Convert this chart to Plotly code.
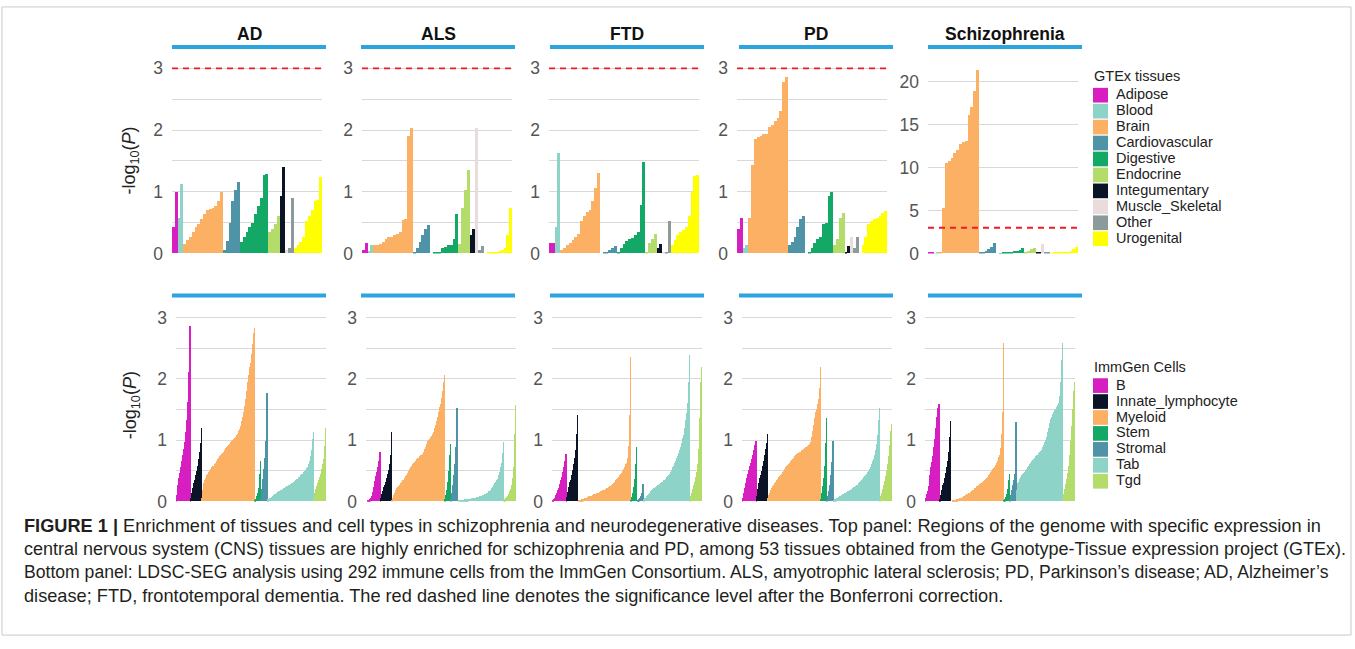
import plotly.graph_objects as go

W, H = 1355, 649

diseases = ["AD", "ALS", "FTD", "PD", "Schizophrenia"]

gtex_groups = ["Adipose", "Blood", "Brain", "Cardiovascular", "Digestive", "Endocrine",
               "Integumentary", "Muscle_Skeletal", "Other", "Urogenital"]
gtex_colors = ["#d71ec1", "#8dd3c7", "#fbb063", "#4f93a6", "#13a865", "#b3dc6a",
               "#0b1426", "#e9dcdc", "#8b9b9b", "#ffff00"]

imm_groups = ["B", "Innate_lymphocyte", "Myeloid", "Stem", "Stromal", "Tab", "Tgd"]
imm_colors = ["#d71ec1", "#0b1426", "#fbb063", "#13a865", "#4f93a6", "#8dd3c7", "#b3dc6a"]

# ---------------- GTEx tissues (-log10 P), sorted within each tissue group ----------------
gtex_ad = [
    [0.42, 1.00],
    [0.58, 1.12],
    [0.16, 0.21, 0.26, 0.34, 0.42, 0.48, 0.56, 0.63, 0.71, 0.72, 0.74, 0.77, 0.85, 0.99],
    [0.06, 0.20, 0.50, 0.85, 1.03, 1.16],
    [0.19, 0.26, 0.34, 0.42, 0.50, 0.63, 0.77, 0.90, 1.27, 1.29],
    [0.34, 0.40, 0.48, 0.61],
    [0.93, 1.40],
    [0.05],
    [0.08, 0.90],
    [0.08, 0.13, 0.19, 0.26, 0.53, 0.61, 0.71, 0.85, 0.87, 1.24],
]
gtex_als = [
    [0.06, 0.17],
    [0.04, 0.14],
    [0.13, 0.14, 0.16, 0.19, 0.24, 0.26, 0.27, 0.29, 0.32, 0.34, 0.54, 0.56, 1.90, 2.03],
    [0.03, 0.08, 0.19, 0.29, 0.40, 0.46],
    [0.00, 0.01, 0.01, 0.03, 0.08, 0.11, 0.13, 0.14, 0.24, 0.63],
    [0.16, 0.74, 1.02, 1.35],
    [0.29, 0.39],
    [2.03],
    [0.05, 0.12],
    [0.00, 0.01, 0.01, 0.02, 0.03, 0.04, 0.05, 0.08, 0.30, 0.74],
]
gtex_ftd = [
    [0.17, 0.17],
    [0.42, 1.63],
    [0.05, 0.09, 0.13, 0.17, 0.21, 0.26, 0.32, 0.53, 0.61, 0.67, 0.71, 0.85, 1.06, 1.30],
    [0.00, 0.01, 0.03, 0.05, 0.08, 0.12],
    [0.03, 0.08, 0.16, 0.20, 0.23, 0.25, 0.29, 0.34, 0.79, 1.48],
    [0.03, 0.17, 0.24, 0.32],
    [0.08, 0.15],
    [0.03],
    [0.03, 0.52],
    [0.13, 0.21, 0.30, 0.35, 0.38, 0.43, 0.60, 0.99, 1.25, 1.27],
]
gtex_pd = [
    [0.39, 0.57],
    [0.08, 0.13],
    [0.58, 1.43, 1.85, 1.88, 1.90, 1.93, 1.94, 2.05, 2.08, 2.14, 2.20, 2.31, 2.78, 2.85],
    [0.13, 0.19, 0.26, 0.42, 0.56, 0.61],
    [0.00, 0.03, 0.08, 0.17, 0.24, 0.26, 0.48, 0.50, 0.93, 0.99],
    [0.13, 0.24, 0.58, 0.66],
    [0.03, 0.12],
    [0.26],
    [0.08, 0.26],
    [0.00, 0.13, 0.26, 0.48, 0.53, 0.56, 0.58, 0.61, 0.66, 0.69],
]
gtex_scz = [
    [0.05, 0.10],
    [0.02, 0.05],
    [0.10, 5.3, 10.5, 10.8, 11.1, 11.7, 12.1, 12.8, 13.0, 13.1, 16.1, 17.0, 18.9, 21.4],
    [0.05, 0.15, 0.30, 0.50, 0.75, 1.25],
    [0.00, 0.02, 0.05, 0.08, 0.12, 0.18, 0.25, 0.33, 0.45, 0.60],
    [0.10, 0.30, 0.50, 0.65],
    [0.05, 0.15],
    [1.05],
    [0.05, 0.10],
    [0.02, 0.05, 0.08, 0.10, 0.12, 0.15, 0.20, 0.30, 0.50, 0.80],
]

# ---------------- ImmGen cells (-log10 P), sorted within each cell group ----------------
imm_ad = [
    [0.03, 0.10, 0.18, 0.26, 0.33, 0.38, 0.42, 0.46, 0.50, 0.55, 0.60, 0.65, 0.70, 0.75,
     0.80, 0.85, 0.90, 0.96, 1.03, 1.12, 1.22, 1.33, 1.46, 1.62, 1.82, 2.10, 2.45, 2.86],
    [0.02, 0.06, 0.10, 0.14, 0.18, 0.22, 0.26, 0.30, 0.34, 0.38, 0.42, 0.46, 0.50, 0.54,
     0.58, 0.63, 0.68, 0.74, 0.80, 0.86, 0.95, 1.19],
    [0.05, 0.12, 0.19, 0.25, 0.29, 0.32, 0.34, 0.36, 0.38, 0.40,
     0.42, 0.43, 0.44, 0.46, 0.47, 0.48, 0.50, 0.51, 0.52, 0.54,
     0.55, 0.56, 0.57, 0.58, 0.60, 0.61, 0.62, 0.63, 0.65, 0.66,
     0.67, 0.68, 0.69, 0.70, 0.71, 0.73, 0.74, 0.75, 0.76, 0.77,
     0.78, 0.79, 0.80, 0.81, 0.82, 0.84, 0.85, 0.86, 0.87, 0.88,
     0.89, 0.90, 0.91, 0.92, 0.93, 0.94, 0.95, 0.96, 0.97, 0.98,
     0.99, 1.00, 1.01, 1.02, 1.03, 1.04, 1.05, 1.06, 1.08, 1.09,
     1.10, 1.12, 1.14, 1.16, 1.18, 1.20, 1.23, 1.27, 1.31, 1.35,
     1.38, 1.42, 1.46, 1.50, 1.55, 1.60, 1.66, 1.72, 1.80, 1.87,
     1.95, 2.00, 2.06, 2.12, 2.18, 2.25, 2.32, 2.40, 2.48, 2.56,
     2.65, 2.74, 2.82],
    [0.01, 0.02, 0.04, 0.06, 0.08, 0.10, 0.13, 0.17, 0.22, 0.30, 0.45, 0.66],
    [0.05, 0.12, 0.20, 0.28, 0.36, 0.44, 0.52, 0.60, 0.70, 0.82, 0.98, 1.20, 1.76],
    [0.02, 0.03, 0.03, 0.04, 0.05, 0.05, 0.06, 0.07, 0.07, 0.08,
     0.09, 0.09, 0.10, 0.10, 0.11, 0.12, 0.12, 0.13, 0.13, 0.14,
     0.15, 0.15, 0.16, 0.16, 0.17, 0.17, 0.18, 0.18, 0.19, 0.19,
     0.20, 0.20, 0.21, 0.21, 0.22, 0.22, 0.23, 0.23, 0.24, 0.24,
     0.25, 0.26, 0.26, 0.27, 0.27, 0.28, 0.29, 0.29, 0.30, 0.30,
     0.31, 0.32, 0.32, 0.33, 0.34, 0.34, 0.35, 0.36, 0.36, 0.37,
     0.38, 0.39, 0.39, 0.40, 0.41, 0.42, 0.43, 0.44, 0.44, 0.45,
     0.46, 0.47, 0.48, 0.49, 0.50, 0.51, 0.53, 0.54, 0.56, 0.58,
     0.60, 0.63, 0.66, 0.70, 0.74, 0.78, 0.84, 0.92, 1.02, 1.12],
    [0.05, 0.10, 0.14, 0.17, 0.20, 0.22, 0.25, 0.27, 0.30, 0.32, 0.34, 0.37,
     0.39, 0.42, 0.45, 0.48, 0.52, 0.56, 0.60, 0.64, 0.69, 0.75, 0.90, 1.19],
]
imm_als = [
    [0.00, 0.00, 0.01, 0.01, 0.02, 0.02, 0.03, 0.03, 0.04, 0.05, 0.07, 0.09, 0.12, 0.15,
     0.19, 0.23, 0.28, 0.33, 0.37, 0.41, 0.44, 0.47, 0.50, 0.55, 0.60, 0.66, 0.72, 0.80],
    [0.02, 0.05, 0.08, 0.11, 0.14, 0.17, 0.20, 0.23, 0.26, 0.29, 0.32, 0.35, 0.38, 0.41,
     0.44, 0.47, 0.51, 0.55, 0.60, 0.66, 0.75, 1.12],
    [0.02, 0.04, 0.06, 0.08, 0.10, 0.12, 0.14, 0.16, 0.18, 0.20,
     0.21, 0.22, 0.23, 0.24, 0.25, 0.26, 0.27, 0.28, 0.29, 0.31,
     0.32, 0.33, 0.34, 0.35, 0.37, 0.38, 0.39, 0.41, 0.42, 0.43,
     0.45, 0.46, 0.48, 0.49, 0.51, 0.52, 0.54, 0.55, 0.57, 0.58,
     0.59, 0.60, 0.61, 0.62, 0.63, 0.64, 0.65, 0.66, 0.67, 0.68,
     0.69, 0.70, 0.70, 0.71, 0.72, 0.73, 0.74, 0.75, 0.75, 0.76,
     0.77, 0.79, 0.81, 0.83, 0.85, 0.87, 0.89, 0.91, 0.93, 0.96,
     0.98, 0.99, 1.00, 1.01, 1.02, 1.03, 1.04, 1.05, 1.06, 1.07,
     1.09, 1.11, 1.13, 1.16, 1.19, 1.22, 1.25, 1.28, 1.31, 1.34,
     1.38, 1.42, 1.46, 1.50, 1.54, 1.58, 1.63, 1.68, 1.73, 1.79,
     1.85, 1.95, 2.05],
    [0.03, 0.06, 0.10, 0.14, 0.19, 0.25, 0.32, 0.40, 0.50, 0.62, 0.75, 0.93],
    [0.03, 0.08, 0.14, 0.20, 0.27, 0.34, 0.42, 0.50, 0.60, 0.72, 0.88, 1.10, 1.52],
    [0.00, 0.00, 0.01, 0.01, 0.01, 0.01, 0.01, 0.02, 0.02, 0.02,
     0.02, 0.02, 0.02, 0.02, 0.03, 0.03, 0.03, 0.03, 0.03, 0.03,
     0.03, 0.04, 0.04, 0.04, 0.04, 0.04, 0.04, 0.05, 0.05, 0.05,
     0.05, 0.05, 0.05, 0.06, 0.06, 0.06, 0.06, 0.06, 0.07, 0.07,
     0.07, 0.07, 0.08, 0.08, 0.08, 0.08, 0.09, 0.09, 0.09, 0.10,
     0.10, 0.10, 0.11, 0.11, 0.12, 0.12, 0.13, 0.13, 0.14, 0.14,
     0.15, 0.16, 0.16, 0.17, 0.18, 0.19, 0.20, 0.21, 0.22, 0.23,
     0.25, 0.26, 0.27, 0.29, 0.30, 0.32, 0.33, 0.35, 0.37, 0.39,
     0.42, 0.44, 0.47, 0.51, 0.55, 0.58, 0.62, 0.68, 0.78, 0.96],
    [0.01, 0.02, 0.03, 0.04, 0.05, 0.06, 0.07, 0.08, 0.09, 0.10, 0.12, 0.14,
     0.16, 0.18, 0.20, 0.23, 0.27, 0.32, 0.38, 0.45, 0.55, 0.75, 1.10, 1.57],
]
imm_ftd = [
    [0.01, 0.02, 0.03, 0.04, 0.05, 0.06, 0.08, 0.10, 0.12, 0.14, 0.16, 0.18, 0.20, 0.22,
     0.25, 0.28, 0.31, 0.34, 0.37, 0.40, 0.43, 0.47, 0.51, 0.55, 0.60, 0.65, 0.70, 0.77],
    [0.03, 0.07, 0.11, 0.15, 0.19, 0.23, 0.27, 0.31, 0.35, 0.39, 0.43, 0.47, 0.51, 0.55,
     0.60, 0.65, 0.70, 0.76, 0.84, 0.95, 1.10, 1.40],
    [0.00, 0.00, 0.01, 0.01, 0.01, 0.02, 0.02, 0.02, 0.03, 0.03,
     0.03, 0.04, 0.04, 0.04, 0.05, 0.05, 0.05, 0.06, 0.06, 0.07,
     0.07, 0.07, 0.08, 0.08, 0.08, 0.09, 0.09, 0.09, 0.10, 0.10,
     0.10, 0.11, 0.11, 0.11, 0.12, 0.12, 0.12, 0.13, 0.13, 0.14,
     0.14, 0.14, 0.15, 0.15, 0.16, 0.16, 0.16, 0.17, 0.17, 0.18,
     0.18, 0.18, 0.19, 0.19, 0.20, 0.20, 0.21, 0.21, 0.22, 0.22,
     0.23, 0.23, 0.24, 0.24, 0.25, 0.26, 0.26, 0.27, 0.28, 0.29,
     0.30, 0.31, 0.32, 0.33, 0.34, 0.35, 0.36, 0.37, 0.38, 0.39,
     0.40, 0.41, 0.42, 0.43, 0.44, 0.45, 0.46, 0.47, 0.49, 0.50,
     0.52, 0.54, 0.56, 0.58, 0.60, 0.62, 0.65, 0.70, 0.78, 0.90,
     1.20, 1.40, 2.35],
    [0.02, 0.04, 0.07, 0.10, 0.14, 0.18, 0.23, 0.29, 0.36, 0.45, 0.60, 0.89],
    [0.00, 0.01, 0.01, 0.02, 0.03, 0.04, 0.05, 0.06, 0.08, 0.10, 0.13, 0.18, 0.28],
    [0.02, 0.03, 0.04, 0.05, 0.06, 0.07, 0.08, 0.09, 0.10, 0.11,
     0.12, 0.13, 0.14, 0.15, 0.16, 0.17, 0.18, 0.19, 0.20, 0.20,
     0.21, 0.22, 0.22, 0.23, 0.23, 0.24, 0.24, 0.25, 0.26, 0.26,
     0.27, 0.28, 0.28, 0.29, 0.30, 0.30, 0.31, 0.32, 0.32, 0.33,
     0.34, 0.35, 0.36, 0.37, 0.38, 0.39, 0.40, 0.41, 0.42, 0.43,
     0.44, 0.45, 0.47, 0.48, 0.50, 0.51, 0.53, 0.55, 0.56, 0.58,
     0.60, 0.62, 0.64, 0.66, 0.68, 0.70, 0.72, 0.74, 0.76, 0.78,
     0.80, 0.83, 0.86, 0.89, 0.92, 0.95, 0.99, 1.03, 1.08, 1.14,
     1.20, 1.26, 1.32, 1.38, 1.44, 1.50, 1.60, 1.75, 1.95, 2.38],
    [0.02, 0.05, 0.08, 0.11, 0.14, 0.17, 0.20, 0.23, 0.26, 0.29, 0.32, 0.36,
     0.40, 0.44, 0.48, 0.53, 0.60, 0.70, 0.85, 1.05, 1.35, 1.70, 1.95, 2.18],
]
imm_pd = [
    [0.02, 0.06, 0.10, 0.14, 0.18, 0.22, 0.26, 0.30, 0.34, 0.38, 0.42, 0.45, 0.48, 0.51,
     0.54, 0.57, 0.60, 0.63, 0.66, 0.69, 0.72, 0.76, 0.80, 0.84, 0.88, 0.92, 0.95, 0.98],
    [0.03, 0.08, 0.14, 0.20, 0.26, 0.30, 0.34, 0.38, 0.42, 0.46, 0.50, 0.54, 0.58, 0.62,
     0.66, 0.70, 0.75, 0.80, 0.85, 0.90, 0.95, 1.10],
    [0.05, 0.08, 0.10, 0.12, 0.14, 0.16, 0.18, 0.20, 0.21, 0.23,
     0.24, 0.25, 0.26, 0.28, 0.29, 0.30, 0.32, 0.33, 0.34, 0.36,
     0.37, 0.38, 0.39, 0.41, 0.42, 0.43, 0.44, 0.45, 0.47, 0.48,
     0.49, 0.50, 0.51, 0.52, 0.53, 0.55, 0.56, 0.57, 0.58, 0.59,
     0.60, 0.61, 0.62, 0.63, 0.64, 0.65, 0.66, 0.67, 0.68, 0.69,
     0.70, 0.71, 0.72, 0.73, 0.74, 0.75, 0.76, 0.77, 0.78, 0.78,
     0.79, 0.80, 0.80, 0.81, 0.81, 0.82, 0.83, 0.83, 0.84, 0.84,
     0.85, 0.86, 0.86, 0.87, 0.88, 0.88, 0.89, 0.90, 0.90, 0.91,
     0.92, 0.93, 0.94, 0.95, 0.97, 1.00, 1.04, 1.09, 1.14, 1.19,
     1.25, 1.30, 1.35, 1.40, 1.45, 1.50, 1.54, 1.58, 1.62, 1.66,
     1.70, 1.85, 2.18],
    [0.04, 0.08, 0.13, 0.18, 0.24, 0.30, 0.38, 0.47, 0.58, 0.72, 0.95, 1.36],
    [0.02, 0.05, 0.08, 0.12, 0.16, 0.21, 0.27, 0.34, 0.42, 0.52, 0.64, 0.80, 0.98],
    [0.01, 0.02, 0.02, 0.03, 0.03, 0.04, 0.05, 0.05, 0.06, 0.06,
     0.07, 0.07, 0.08, 0.08, 0.09, 0.09, 0.10, 0.10, 0.11, 0.11,
     0.12, 0.12, 0.13, 0.13, 0.14, 0.14, 0.15, 0.15, 0.16, 0.16,
     0.17, 0.17, 0.18, 0.18, 0.19, 0.19, 0.20, 0.21, 0.21, 0.22,
     0.23, 0.23, 0.24, 0.25, 0.25, 0.26, 0.27, 0.27, 0.28, 0.29,
     0.30, 0.31, 0.32, 0.33, 0.34, 0.35, 0.36, 0.37, 0.38, 0.39,
     0.40, 0.41, 0.42, 0.43, 0.44, 0.45, 0.46, 0.47, 0.48, 0.49,
     0.50, 0.52, 0.54, 0.56, 0.58, 0.60, 0.62, 0.65, 0.68, 0.71,
     0.75, 0.79, 0.83, 0.88, 0.94, 1.00, 1.08, 1.18, 1.32, 1.52],
    [0.02, 0.05, 0.08, 0.11, 0.14, 0.17, 0.20, 0.23, 0.26, 0.29, 0.33, 0.37,
     0.41, 0.45, 0.50, 0.55, 0.60, 0.66, 0.73, 0.82, 0.92, 1.05, 1.15, 1.26],
]
imm_scz = [
    [0.02, 0.05, 0.08, 0.11, 0.14, 0.17, 0.20, 0.25, 0.32, 0.42, 0.50, 0.55, 0.60, 0.64,
     0.68, 0.74, 0.80, 0.88, 0.95, 1.02, 1.10, 1.20, 1.30, 1.38, 1.45, 1.52, 1.56, 1.58],
    [0.01, 0.03, 0.06, 0.10, 0.14, 0.18, 0.22, 0.26, 0.30, 0.34, 0.38, 0.42, 0.46, 0.50,
     0.55, 0.60, 0.66, 0.72, 0.80, 0.92, 1.04, 1.30],
    [0.00, 0.00, 0.00, 0.01, 0.01, 0.01, 0.01, 0.02, 0.02, 0.02,
     0.02, 0.03, 0.03, 0.03, 0.04, 0.04, 0.04, 0.04, 0.05, 0.05,
     0.05, 0.06, 0.06, 0.07, 0.07, 0.08, 0.08, 0.09, 0.09, 0.10,
     0.10, 0.11, 0.11, 0.12, 0.12, 0.13, 0.14, 0.14, 0.15, 0.15,
     0.16, 0.17, 0.17, 0.18, 0.19, 0.19, 0.20, 0.21, 0.21, 0.22,
     0.23, 0.24, 0.24, 0.25, 0.26, 0.26, 0.27, 0.28, 0.28, 0.29,
     0.30, 0.31, 0.31, 0.32, 0.33, 0.34, 0.34, 0.35, 0.36, 0.37,
     0.38, 0.39, 0.40, 0.41, 0.42, 0.43, 0.44, 0.45, 0.47, 0.48,
     0.50, 0.51, 0.52, 0.53, 0.54, 0.55, 0.56, 0.57, 0.59, 0.60,
     0.62, 0.64, 0.66, 0.69, 0.72, 0.75, 0.80, 0.86, 0.95, 1.10,
     1.30, 1.45, 2.58],
    [0.01, 0.02, 0.03, 0.05, 0.07, 0.09, 0.12, 0.15, 0.20, 0.26, 0.35, 0.45],
    [0.03, 0.06, 0.10, 0.14, 0.18, 0.22, 0.26, 0.30, 0.34, 0.38, 0.45, 0.60, 1.29],
    [0.08, 0.18, 0.25, 0.29, 0.32, 0.34, 0.36, 0.38, 0.39, 0.41,
     0.42, 0.43, 0.44, 0.45, 0.46, 0.47, 0.48, 0.50, 0.51, 0.52,
     0.53, 0.54, 0.55, 0.56, 0.57, 0.58, 0.60, 0.61, 0.62, 0.63,
     0.65, 0.66, 0.67, 0.68, 0.69, 0.70, 0.71, 0.72, 0.73, 0.74,
     0.75, 0.76, 0.77, 0.78, 0.79, 0.80, 0.81, 0.82, 0.83, 0.84,
     0.86, 0.88, 0.90, 0.92, 0.94, 0.96, 0.98, 1.00, 1.03, 1.05,
     1.08, 1.12, 1.16, 1.20, 1.24, 1.28, 1.31, 1.34, 1.36, 1.38,
     1.40, 1.42, 1.43, 1.45, 1.46, 1.48, 1.49, 1.51, 1.53, 1.54,
     1.56, 1.58, 1.60, 1.65, 1.72, 1.84, 1.95, 2.10, 2.30, 2.58],
    [0.04, 0.08, 0.12, 0.16, 0.20, 0.24, 0.28, 0.32, 0.36, 0.41, 0.46, 0.52,
     0.58, 0.66, 0.75, 0.86, 0.98, 1.10, 1.22, 1.36, 1.50, 1.65, 1.80, 1.94],
]

bonferroni = 3.0

gtex_data = [gtex_ad, gtex_als, gtex_ftd, gtex_pd, gtex_scz]
imm_data = [imm_ad, imm_als, imm_ftd, imm_pd, imm_scz]

# ---------------- layout geometry (pixels) ----------------
top_x0 = [172, 362, 549, 737, 928]
bot_x0 = [176, 366, 552, 742, 925]
strip_x0 = [172, 361, 550, 739, 928]
panel_w = 150
strip_w = 154


def fx(p):
    return p / W


def fy(p):
    return 1 - p / H


FONT = "Arial, 'Liberation Sans', Helvetica, sans-serif"
GRID = "#d9d9d9"

fig = go.Figure()
layout = dict(
    width=W, height=H, margin=dict(l=0, r=0, t=0, b=0),
    paper_bgcolor="white", plot_bgcolor="white",
    barmode="overlay", bargap=0, showlegend=False,
    font=dict(family=FONT, color="#333333"),
)
shapes = []
annotations = []


def add_panel(n, groups_vals, colors, x0px, y_bottom, y_top, yrange, major, minor, red):
    xs = "x" if n == 1 else f"x{n}"
    ys = "y" if n == 1 else f"y{n}"
    start = 0
    for vals, col in zip(groups_vals, colors):
        fig.add_trace(go.Bar(
            x=list(range(start, start + len(vals))), y=vals,
            marker=dict(color=col, line=dict(width=0)),
            xaxis=xs, yaxis=ys, hoverinfo="y",
        ))
        start += len(vals)
    layout[f"xaxis{n}" if n > 1 else "xaxis"] = dict(
        domain=[fx(x0px), fx(x0px + panel_w)], range=[-0.5, start - 0.5],
        showgrid=False, zeroline=False, showticklabels=False, ticks="",
        anchor=ys, fixedrange=True,
    )
    yax = dict(
        domain=[fy(y_bottom), fy(y_top)], range=yrange,
        tickvals=major, ticks="",
        showgrid=True, gridcolor=GRID, gridwidth=1,
        zeroline=True, zerolinecolor="rgba(0,0,0,0)",
        showline=False, anchor=xs, ticklabelstandoff=8,
        tickfont=dict(size=17.5, color="#555555", family=FONT), fixedrange=True,
    )
    if minor:
        yax["minor"] = dict(tickvals=minor, showgrid=True, gridcolor=GRID, gridwidth=1, ticks="")
    layout[f"yaxis{n}" if n > 1 else "yaxis"] = yax
    if red:
        shapes.append(dict(type="line", xref=f"{xs} domain", yref=ys, x0=0, x1=1,
                           y0=bonferroni, y1=bonferroni,
                           line=dict(color="#ee1c25", width=1.8, dash="6px,5px")))


# top row (GTEx)
for i, d in enumerate(diseases):
    if d == "Schizophrenia":
        yr, mj, mn = [0, 22.3], [0, 5, 10, 15, 20], None
    else:
        yr, mj, mn = [0, 3.1], [0, 1, 2, 3], [0.5, 1.5, 2.5]
    add_panel(i + 1, gtex_data[i], gtex_colors, top_x0[i], 255, 59.4, yr, mj, mn, True)
    shapes.append(dict(type="line", xref="paper", yref="paper",
                       x0=fx(strip_x0[i]), x1=fx(strip_x0[i] + strip_w), y0=fy(44), y1=fy(44),
                       line=dict(color="#2ba4df", width=4)))
    annotations.append(dict(text=f"<b>{d}</b>", xref="paper", yref="paper",
                            x=fx(strip_x0[i] + strip_w / 2), y=fy(31), showarrow=False,
                            xanchor="center", yanchor="middle",
                            font=dict(size=17.5, color="#111111", family=FONT)))

# bottom row (ImmGen)
for i, d in enumerate(diseases):
    add_panel(i + 6, imm_data[i], imm_colors, bot_x0[i], 508.5, 314.1, [0, 3.1],
              [0, 1, 2, 3], [0.5, 1.5, 2.5], False)
    shapes.append(dict(type="line", xref="paper", yref="paper",
                       x0=fx(strip_x0[i]), x1=fx(strip_x0[i] + strip_w), y0=fy(298), y1=fy(298),
                       line=dict(color="#2ba4df", width=4)))

# y-axis titles
for yc in (160, 410):
    annotations.append(dict(text="-log<sub>10</sub>(<i>P</i>)", xref="paper", yref="paper",
                            x=fx(131), y=fy(yc), showarrow=False, textangle=-90,
                            xanchor="center", yanchor="middle",
                            font=dict(size=18, color="#222222", family=FONT)))


# legends (drawn as swatches + labels)
def add_legend(title, names, colors, title_y, first_y, step=16.3):
    annotations.append(dict(text=title, xref="paper", yref="paper", x=fx(1092), y=fy(title_y),
                            showarrow=False, xanchor="left", yanchor="middle",
                            font=dict(size=14.5, color="#222222", family=FONT)))
    for k, (nm, col) in enumerate(zip(names, colors)):
        yc = first_y + k * step
        shapes.append(dict(type="rect", xref="paper", yref="paper",
                           x0=fx(1093), x1=fx(1108), y0=fy(yc + 8.5), y1=fy(yc - 6.5),
                           fillcolor=col, line=dict(width=0)))
        annotations.append(dict(text=nm, xref="paper", yref="paper", x=fx(1114), y=fy(yc),
                                showarrow=False, xanchor="left", yanchor="middle",
                                font=dict(size=14.5, color="#222222", family=FONT)))


add_legend("GTEx tissues", gtex_groups, gtex_colors, 74, 92.2)
add_legend("ImmGen Cells", imm_groups, imm_colors, 371, 389)

# caption
caption_lines = [
    "<b>FIGURE 1 |</b> Enrichment of tissues and cell types in schizophrenia and neurodegenerative diseases. "
    "Top panel: Regions of the genome with specific expression in",
    "central nervous system (CNS) tissues are highly enriched for schizophrenia and PD, among 53 tissues "
    "obtained from the Genotype-Tissue expression project (GTEx).",
    "Bottom panel: LDSC-SEG analysis using 292 immune cells from the ImmGen Consortium. ALS, amyotrophic "
    "lateral sclerosis; PD, Parkinson’s disease; AD, Alzheimer’s",
    "disease; FTD, frontotemporal dementia. The red dashed line denotes the significance level after the "
    "Bonferroni correction.",
]
caption_sizes = [18.2, 18.0, 17.6, 18.2]
for k, line in enumerate(caption_lines):
    annotations.append(dict(text=line, xref="paper", yref="paper", x=fx(22), y=fy(533 + 24 * k),
                            showarrow=False, xanchor="left", yanchor="middle",
                            font=dict(size=caption_sizes[k], color="#231f20", family=FONT)))

# outer frame
shapes.append(dict(type="rect", xref="paper", yref="paper", x0=fx(2), x1=fx(1351),
                   y0=fy(645), y1=fy(3), line=dict(color="#c9c9c9", width=1),
                   fillcolor="rgba(0,0,0,0)", layer="below"))

layout["shapes"] = shapes
layout["annotations"] = annotations
fig.update_layout(**layout)

fig.write_html(
    "out.html", config={"displayModeBar": False},
    post_script=(
        "document.documentElement.style.margin='0';document.documentElement.style.padding='0';"
        "document.documentElement.style.overflow='hidden';"
        "document.body.style.margin='0';document.body.style.padding='0';"
        "document.body.style.overflow='hidden';"
    ),
)
